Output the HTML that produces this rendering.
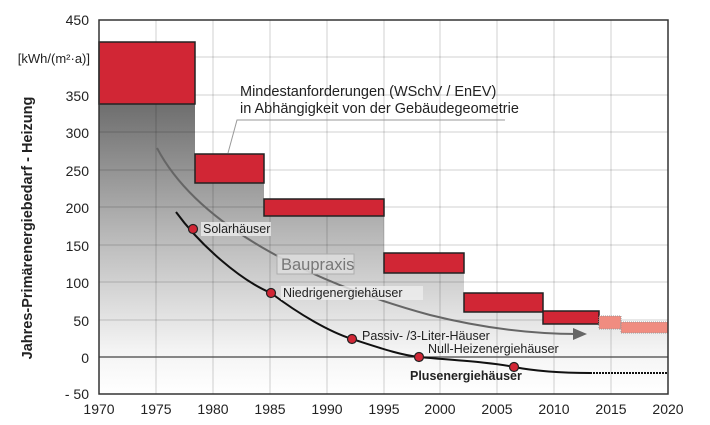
<!DOCTYPE html><html><head><meta charset="utf-8"><style>body{margin:0;background:#fff}svg{display:block;font-family:"Liberation Sans",sans-serif}</style></head><body>
<svg width="710" height="425" viewBox="0 0 710 425">
<defs>
<linearGradient id="g" gradientUnits="userSpaceOnUse" x1="0" y1="104" x2="0" y2="394"><stop offset="0" stop-color="#6e6e6e"/><stop offset="0.45" stop-color="#b8b8b8"/><stop offset="0.85" stop-color="#f4f4f4"/><stop offset="1" stop-color="#ffffff"/></linearGradient>
</defs>
<rect x="99" y="20" width="569" height="374" fill="#fff"/>
<path d="M99,104 H195 V183 H264 V216 H384 V273 H464 V312 H543 V324 H599 V329 H621 V333 H668 V394 H99 Z" fill="url(#g)"/>
<g stroke="#000" stroke-opacity="0.18" stroke-width="1">
<line x1="156" y1="20" x2="156" y2="394"/><line x1="213" y1="20" x2="213" y2="394"/><line x1="270" y1="20" x2="270" y2="394"/><line x1="327" y1="20" x2="327" y2="394"/><line x1="384" y1="20" x2="384" y2="394"/><line x1="440" y1="20" x2="440" y2="394"/><line x1="497" y1="20" x2="497" y2="394"/><line x1="554" y1="20" x2="554" y2="394"/><line x1="611" y1="20" x2="611" y2="394"/>
<line x1="99" y1="57" x2="668" y2="57"/><line x1="99" y1="95" x2="668" y2="95"/><line x1="99" y1="132" x2="668" y2="132"/><line x1="99" y1="170" x2="668" y2="170"/><line x1="99" y1="207" x2="668" y2="207"/><line x1="99" y1="245" x2="668" y2="245"/><line x1="99" y1="282" x2="668" y2="282"/><line x1="99" y1="320" x2="668" y2="320"/>
</g>
<line x1="99" y1="357" x2="668" y2="357" stroke="#444" stroke-width="1.2"/>
<g fill="#d12635" stroke="#222" stroke-width="1.5">
<rect x="99" y="42" width="96" height="62"/><rect x="195" y="154" width="69" height="29"/><rect x="264" y="199" width="120" height="17"/><rect x="384" y="253" width="80" height="20"/><rect x="464" y="293" width="79" height="19"/><rect x="543" y="311" width="56" height="13"/>
</g>
<rect x="599" y="316" width="22" height="13" fill="#f08c80" stroke="#999" stroke-dasharray="1,1"/>
<rect x="621" y="322" width="47" height="11" fill="#f08c80" stroke="#999" stroke-dasharray="1,1"/>
<path d="M157,148 C200,230 320,285 430,315 C490,330 540,334 578,334" fill="none" stroke="#666" stroke-width="2"/>
<polygon points="573,328 587,334 573,340" fill="#666"/>
<path d="M228,153 L237,120 L505,120" fill="none" stroke="#999" stroke-width="1"/>
<path d="M176,212 C200,245 240,280 271,293 C300,315 330,332 352,339 C380,348 400,355 419,357 C450,360 490,362 514,367 C540,372 570,373 590,373" fill="none" stroke="#111" stroke-width="2"/>
<line x1="590" y1="373" x2="668" y2="373" stroke="#111" stroke-width="2" stroke-dasharray="2,1"/>
<g fill="#d12635" stroke="#222" stroke-width="1.2"><circle cx="193" cy="229" r="4.5"/><circle cx="271" cy="293" r="4.5"/><circle cx="352" cy="339" r="4.5"/><circle cx="419" cy="357" r="4.5"/><circle cx="514" cy="367" r="4.5"/></g>
<rect x="99" y="20" width="569" height="374" fill="none" stroke="#333" stroke-width="1.5"/>
<g font-size="12.5" fill="#222">
<rect x="201" y="222" width="70" height="14" fill="#eee" opacity="0.8"/><text x="203" y="233">Solarhäuser</text>
<rect x="281" y="286" width="142" height="14" fill="#eee" opacity="0.8"/><text x="283" y="297">Niedrigenergiehäuser</text>
<text x="362" y="340">Passiv- /3-Liter-Häuser</text>
<text x="428" y="353">Null-Heizenergiehäuser</text>
<text x="410" y="380" font-weight="bold">Plusenergiehäuser</text>
<text x="240" y="96" font-size="14.5">Mindestanforderungen (WSchV / EnEV)</text>
<text x="240" y="113" font-size="14.5">in Abhängigkeit von der Gebäudegeometrie</text>
</g>
<rect x="277" y="254" width="77" height="20" fill="#ddd" stroke="#aaa" opacity="0.9"/>
<text x="281" y="270" font-size="16.5" fill="#777">Baupraxis</text>
<g font-size="14" fill="#222" text-anchor="end">
<text x="89" y="25">450</text><text x="89" y="101">350</text><text x="89" y="138">300</text><text x="89" y="176">250</text><text x="89" y="213">200</text><text x="89" y="251">150</text><text x="89" y="288">100</text><text x="89" y="326">50</text><text x="89" y="363">0</text><text x="89" y="399">- 50</text>
<text x="90" y="63" font-size="13">[kWh/(m²·a)]</text>
</g>
<g font-size="14" fill="#222" text-anchor="middle">
<text x="99" y="414">1970</text><text x="156" y="414">1975</text><text x="213" y="414">1980</text><text x="270" y="414">1985</text><text x="327" y="414">1990</text><text x="384" y="414">1995</text><text x="440" y="414">2000</text><text x="497" y="414">2005</text><text x="554" y="414">2010</text><text x="611" y="414">2015</text><text x="668" y="414">2020</text>
</g>
<text transform="translate(32,228) rotate(-90)" text-anchor="middle" font-size="14.5" font-weight="bold" fill="#222">Jahres-Primärenergiebedarf - Heizung</text>
</svg></body></html>
